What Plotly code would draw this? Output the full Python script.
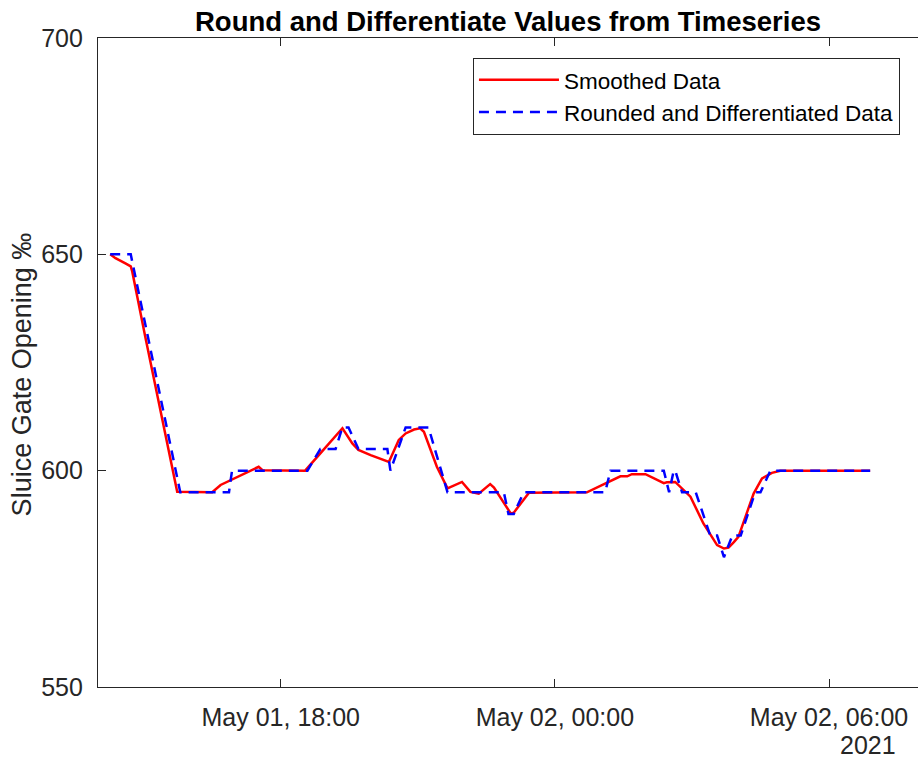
import plotly.graph_objects as go

# Smoothed data (red)
smooth_time = [
    "2021-05-01 14:16", "2021-05-01 14:23", "2021-05-01 14:36", "2021-05-01 14:43", "2021-05-01 14:45",
    "2021-05-01 15:02", "2021-05-01 15:44", "2021-05-01 16:30", "2021-05-01 16:41", "2021-05-01 17:31",
    "2021-05-01 17:36", "2021-05-01 18:32", "2021-05-01 18:56", "2021-05-01 19:21", "2021-05-01 19:34",
    "2021-05-01 19:42", "2021-05-01 19:58", "2021-05-01 20:22", "2021-05-01 20:35", "2021-05-01 20:44",
    "2021-05-01 20:55", "2021-05-01 21:03", "2021-05-01 21:08", "2021-05-01 21:25", "2021-05-01 21:39",
    "2021-05-01 21:58", "2021-05-01 22:09", "2021-05-01 22:20", "2021-05-01 22:35", "2021-05-01 22:40",
    "2021-05-01 23:02", "2021-05-01 23:06", "2021-05-01 23:26", "2021-05-02 00:42", "2021-05-02 01:26",
    "2021-05-02 01:35", "2021-05-02 01:41", "2021-05-02 01:59", "2021-05-02 02:23", "2021-05-02 02:27",
    "2021-05-02 02:38", "2021-05-02 02:47", "2021-05-02 02:58", "2021-05-02 03:15", "2021-05-02 03:33",
    "2021-05-02 03:42", "2021-05-02 03:48", "2021-05-02 03:55", "2021-05-02 04:01", "2021-05-02 04:21",
    "2021-05-02 04:32", "2021-05-02 04:45", "2021-05-02 04:56", "2021-05-02 06:54",
]
smooth_value = [
    650.0, 649.1, 647.9, 647.2, 646.0,
    631.0, 595.1, 595.0, 596.7, 600.9,
    600.1, 600.0, 604.8, 609.8, 606.3,
    604.8, 603.6, 602.0, 607.1, 608.6,
    609.5, 609.8, 609.0, 600.9, 595.9,
    597.4, 595.1, 594.7, 596.9, 596.1,
    590.1, 590.3, 594.9, 595.0, 598.7,
    598.7, 599.2, 599.2, 597.1, 597.3,
    597.4, 595.9, 594.0, 587.8, 582.8,
    582.0, 582.2, 583.5, 584.7, 594.7,
    598.2, 599.5, 600.0, 600.0,
]

# Rounded and differentiated data (blue dashed)
rounded_time = [
    "2021-05-01 14:16", "2021-05-01 14:43", "2021-05-01 15:48", "2021-05-01 16:52", "2021-05-01 16:56",
    "2021-05-01 18:35", "2021-05-01 18:52", "2021-05-01 19:12", "2021-05-01 19:21", "2021-05-01 19:29",
    "2021-05-01 19:42", "2021-05-01 20:20", "2021-05-01 20:24", "2021-05-01 20:44", "2021-05-01 21:14",
    "2021-05-01 21:39", "2021-05-01 22:53", "2021-05-01 22:59", "2021-05-01 23:06", "2021-05-01 23:19",
    "2021-05-02 01:06", "2021-05-02 01:13", "2021-05-02 02:23", "2021-05-02 02:30", "2021-05-02 02:36",
    "2021-05-02 02:38", "2021-05-02 02:47", "2021-05-02 03:05", "2021-05-02 03:24", "2021-05-02 03:33",
    "2021-05-02 03:42", "2021-05-02 03:53", "2021-05-02 04:04", "2021-05-02 04:23", "2021-05-02 04:30",
    "2021-05-02 04:43", "2021-05-02 06:54",
]
rounded_value = [
    650, 650, 595, 595, 600,
    600, 605, 605, 610, 610,
    605, 605, 600, 610, 610,
    595, 595, 590, 590, 595,
    595, 600, 600, 595, 600,
    600, 595, 595, 585, 585,
    580, 585, 585, 595, 595,
    600, 600,
]

x_tick_vals = ["2021-05-01 18:00", "2021-05-02 00:00", "2021-05-02 06:00"]
x_tick_text = ["May 01, 18:00", "May 02, 00:00", "May 02, 06:00"]
y_tick_vals = [550, 600, 650, 700]

FONT = "Liberation Sans, Arial, Helvetica, sans-serif"
AX = "#262626"

fig = go.Figure()
fig.add_trace(go.Scatter(
    x=smooth_time, y=smooth_value, mode="lines", name="Smoothed Data",
    line=dict(color="#ff0000", width=2.5),
))
fig.add_trace(go.Scatter(
    x=rounded_time, y=rounded_value, mode="lines", name="Rounded and Differentiated Data",
    line=dict(color="#0000ff", width=2.5, dash="10px,7px"),
))

fig.update_layout(
    width=918, height=760, autosize=False,
    margin=dict(l=97.5, r=0, t=38, b=73, pad=0),
    paper_bgcolor="white", plot_bgcolor="white",
    font=dict(family=FONT, color=AX, size=25),
    title=dict(
        text="<b>Round and Differentiate Values from Timeseries</b>",
        x=0.5, xref="paper", xanchor="center",
        y=1 - 21 / 760, yref="container", yanchor="middle",
        font=dict(family=FONT, size=27.5, color="black"),
    ),
    xaxis=dict(
        type="date",
        range=["2021-05-01 14:00", "2021-05-02 07:56:50"],
        tickvals=x_tick_vals, ticktext=x_tick_text,
        ticks="inside", ticklen=8, tickcolor=AX, tickwidth=1,
        showline=True, linecolor=AX, linewidth=1.2, mirror="ticks",
        showgrid=False, zeroline=False,
        ticklabelstandoff=8,
        tickfont=dict(family=FONT, size=25, color=AX),
    ),
    yaxis=dict(
        range=[550, 700],
        tickvals=y_tick_vals,
        ticks="inside", ticklen=8, tickcolor=AX, tickwidth=1,
        showline=True, linecolor=AX, linewidth=1.2, mirror=False,
        showgrid=False, zeroline=False,
        ticklabelstandoff=9,
        tickfont=dict(family=FONT, size=25, color=AX),
    ),
    legend=dict(
        x=0.978, xanchor="right", y=0.9696, yanchor="top",
        bgcolor="white", bordercolor=AX, borderwidth=1,
        font=dict(family=FONT, size=22.5, color="black"),
        tracegroupgap=0, itemwidth=80,
    ),
    showlegend=True,
    annotations=[
        dict(text="Sluice Gate Opening ‰", textangle=-90,
             xref="paper", yref="paper",
             x=(21 - 97.5) / 820.5, y=0.481, xanchor="center", yanchor="middle",
             showarrow=False, font=dict(family=FONT, size=27, color=AX)),
        dict(text="2021", xref="paper", yref="paper",
             x=(868 - 97.5) / 820.5, y=(686.7 - 745) / 648.4,
             xanchor="center", yanchor="middle",
             showarrow=False, font=dict(family=FONT, size=25, color=AX)),
    ],
)

fig.write_html("out.html", config={"displayModeBar": False},
               post_script="document.body.style.margin='0px';")
